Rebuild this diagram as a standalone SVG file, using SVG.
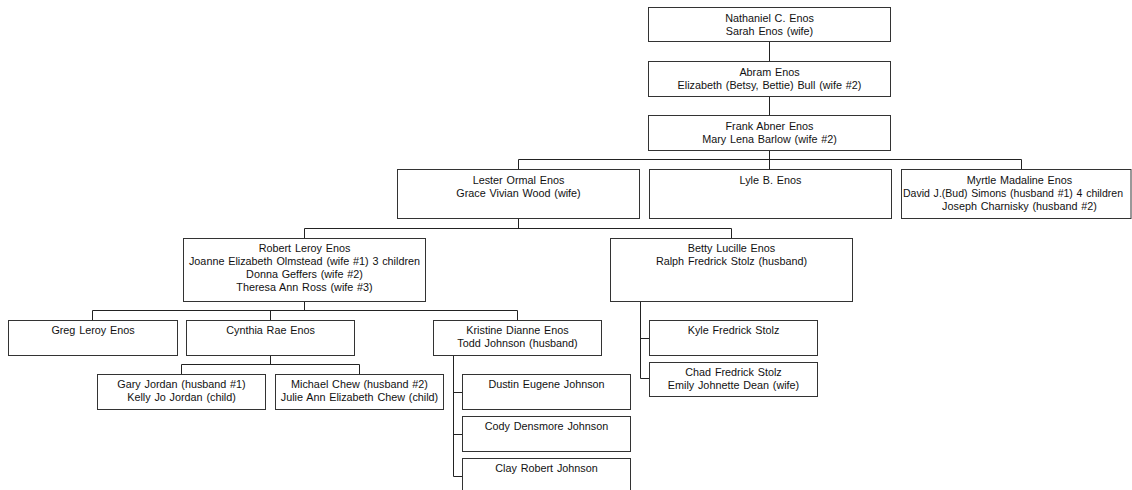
<svg xmlns="http://www.w3.org/2000/svg" width="1132" height="490" viewBox="0 0 1132 490">
<style>
.box{fill:#fff;stroke:#333;stroke-width:1}
.c{fill:none;stroke:#222;stroke-width:1}
text{font-family:"Liberation Sans",Arial,sans-serif;font-size:10.8px;word-spacing:0.8px;fill:#111;text-anchor:middle}
</style>
<rect width="1132" height="490" fill="#fff"/>
<g id="connectors">
<path class="c" d="M769.5 41V61M769.5 96V115M769.5 150V159.5M518.5 159.5H1021.5M518.5 159.5V169M769.5 159.5V169M1021.5 159.5V169"/>
<path class="c" d="M518.5 218V228.5M304.5 228.5H731.5M304.5 228.5V238M731.5 228.5V238"/>
<path class="c" d="M304.5 301V310.5M92.5 310.5H517.5M92.5 310.5V320M270.5 310.5V320M517.5 310.5V320"/>
<path class="c" d="M270.5 355V364.5M181.5 364.5H359.5M181.5 364.5V374M359.5 364.5V374"/>
<path class="c" d="M453.5 356V476.5M453.5 392.5H462M453.5 434.5H462M453.5 476.5H462"/>
<path class="c" d="M640.5 301V378.5M640.5 338.5H649M640.5 378.5H649"/>
</g>
<g id="nathaniel"><rect class="box" x="648.5" y="7.5" width="242" height="34"/><text x="769.5" y="22">Nathaniel C. Enos</text><text x="769.5" y="35">Sarah Enos (wife)</text></g>
<g id="abram"><rect class="box" x="648.5" y="61.5" width="242" height="35"/><text x="769.5" y="76">Abram Enos</text><text x="769.5" y="89">Elizabeth (Betsy, Bettie) Bull (wife #2)</text></g>
<g id="frank"><rect class="box" x="648.5" y="115.5" width="242" height="35"/><text x="769.5" y="130">Frank Abner Enos</text><text x="769.5" y="143">Mary Lena Barlow (wife #2)</text></g>
<g id="lester"><rect class="box" x="397.5" y="169.5" width="242" height="49"/><text x="518.5" y="184">Lester Ormal Enos</text><text x="518.5" y="197">Grace Vivian Wood (wife)</text></g>
<g id="lyle"><rect class="box" x="649.5" y="169.5" width="242" height="49"/><text x="770.5" y="184">Lyle B. Enos</text></g>
<g id="myrtle"><rect class="box" x="901.5" y="169.5" width="229.5" height="49"/><text x="1019.5" y="184">Myrtle Madaline Enos</text><text x="1013" y="197" textLength="220" lengthAdjust="spacingAndGlyphs">David J.(Bud) Simons (husband #1) 4 children</text><text x="1019.5" y="210">Joseph Charnisky (husband #2)</text></g>
<g id="robert"><rect class="box" x="183.5" y="238.5" width="242" height="63"/><text x="304.5" y="252">Robert Leroy Enos</text><text x="304.5" y="265">Joanne Elizabeth Olmstead (wife #1) 3 children</text><text x="304.5" y="278">Donna Geffers (wife #2)</text><text x="304.5" y="291">Theresa Ann Ross (wife #3)</text></g>
<g id="betty"><rect class="box" x="610.5" y="238.5" width="242" height="63"/><text x="731.5" y="252">Betty Lucille Enos</text><text x="731.5" y="265">Ralph Fredrick Stolz (husband)</text></g>
<g id="greg"><rect class="box" x="8.5" y="320.5" width="169" height="35"/><text x="93" y="334">Greg Leroy Enos</text></g>
<g id="cynthia"><rect class="box" x="186.5" y="320.5" width="168" height="35"/><text x="270.5" y="334">Cynthia Rae Enos</text></g>
<g id="kristine"><rect class="box" x="433.5" y="320.5" width="168" height="35"/><text x="517.5" y="334">Kristine Dianne Enos</text><text x="517.5" y="347">Todd Johnson (husband)</text></g>
<g id="kyle"><rect class="box" x="649.5" y="320.5" width="168" height="35"/><text x="733.5" y="334">Kyle Fredrick Stolz</text></g>
<g id="chad"><rect class="box" x="649.5" y="362.5" width="168" height="34"/><text x="733.5" y="376">Chad Fredrick Stolz</text><text x="733.5" y="389">Emily Johnette Dean (wife)</text></g>
<g id="gary"><rect class="box" x="97.5" y="374.5" width="168" height="35"/><text x="181.5" y="388">Gary Jordan (husband #1)</text><text x="181.5" y="401">Kelly Jo Jordan (child)</text></g>
<g id="michael"><rect class="box" x="275.5" y="374.5" width="168" height="35"/><text x="359.5" y="388">Michael Chew (husband #2)</text><text x="359.5" y="401">Julie Ann Elizabeth Chew (child)</text></g>
<g id="dustin"><rect class="box" x="462.5" y="374.5" width="168" height="35"/><text x="546.5" y="388">Dustin Eugene Johnson</text></g>
<g id="cody"><rect class="box" x="462.5" y="416.5" width="168" height="35"/><text x="546.5" y="430">Cody Densmore Johnson</text></g>
<g id="clay"><rect class="box" x="462.5" y="458.5" width="168" height="35"/><text x="546.5" y="472">Clay Robert Johnson</text></g>
</svg>
